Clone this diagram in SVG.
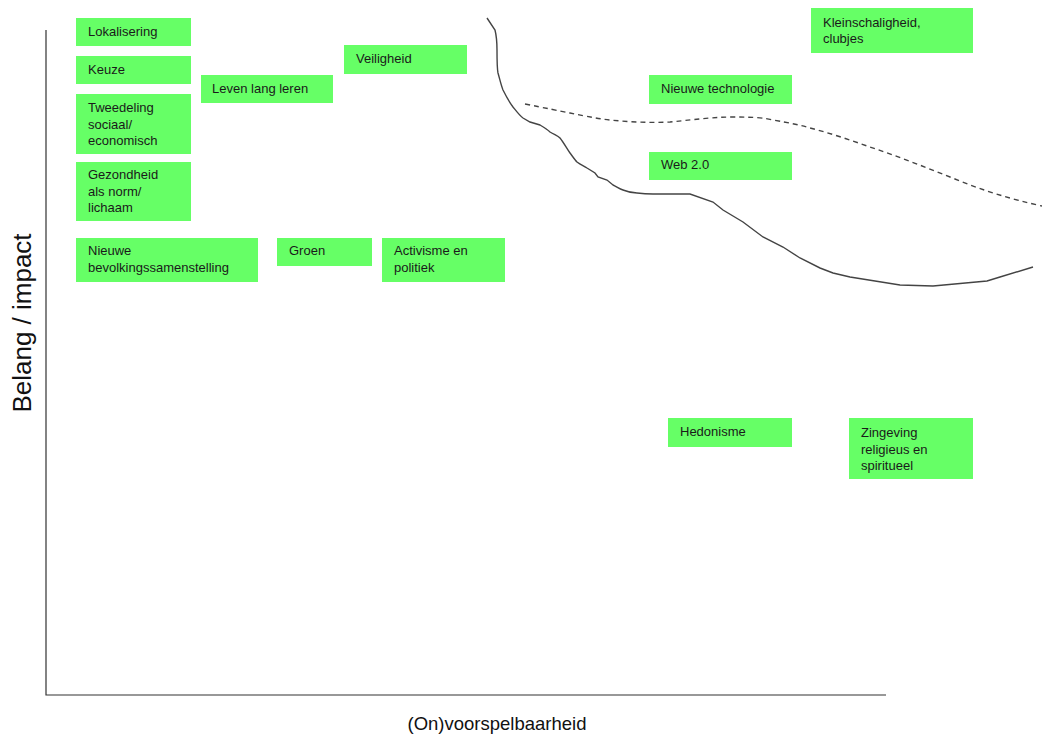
<svg xmlns="http://www.w3.org/2000/svg" width="1042" height="738" viewBox="0 0 1042 738">
<style>
.box{fill:#66ff66;stroke:none}
.t{font-family:"Liberation Sans",Arial,sans-serif;font-size:13px;fill:#1a1a1a}
.ax{stroke:#333;stroke-width:1.2;fill:none}
.lab{font-family:"Liberation Sans",Arial,sans-serif;fill:#111}
.curve{stroke:#444;stroke-width:1.4;fill:none}
.dash{stroke:#444;stroke-width:1.4;fill:none;stroke-dasharray:5,4}
</style>
<rect width="1042" height="738" fill="#fff"/>
<g id="axes">
<path class="ax" d="M46,30 V695 H886"/>
<text class="lab" x="497" y="730" font-size="18.5" text-anchor="middle">(On)voorspelbaarheid</text>
<text class="lab" transform="translate(31,323) rotate(-90)" font-size="26" text-anchor="middle">Belang / impact</text>
</g>
<g id="connectors">
<path class="curve" d="M487,18 L495,30 C497,38 497,45 497,50 C497,60 497,68 498,73 C500,80 501,85 503,90 C507,98 510,103 513,107 C517,112 520,116 523,118 L530,122 L540,125 C545,128 548,130 550,132 C555,135 558,136 560,138 C564,143 567,149 570,153 C573,157 575,160 577,162 C581,165 584,166 587,168 L595,173 L598,177 L607,180 L613,185 C617,187 620,189 623,190 C628,192 633,193 637,193 C645,194 650,194 653,194 L690,194 L713,202 L723,210 L743,222 L763,237 L783,247 L800,258 L820,268 L833,273 L850,277 L900,285 L933,286 L987,281 L1000,277 L1033,267"/>
<path class="dash" d="M525,104 C545,108 560,111 570,113 C590,117 600,119 610,120 C630,122 650,123 670,122 C700,119 715,117 733,117 C755,117 765,118 773,120 C790,123 800,125 810,128 C830,133 850,140 870,147 C900,157 930,169 960,181 C985,191 1010,199 1042,206"/>
</g>
<g id="n-lokalisering"><rect class="box" x="76" y="18" width="115" height="28"/><text class="t" x="88" y="36">Lokalisering</text></g>
<g id="n-keuze"><rect class="box" x="76" y="56" width="115" height="28"/><text class="t" x="88" y="74">Keuze</text></g>
<g id="n-tweedeling"><rect class="box" x="76" y="94" width="115" height="60"/><text class="t" x="88" y="112">Tweedeling</text><text class="t" x="88" y="128.5">sociaal/</text><text class="t" x="88" y="145">economisch</text></g>
<g id="n-gezondheid"><rect class="box" x="76" y="162" width="115" height="59"/><text class="t" x="88" y="179">Gezondheid</text><text class="t" x="88" y="195.5">als norm/</text><text class="t" x="88" y="212">lichaam</text></g>
<g id="n-leven"><rect class="box" x="201" y="75" width="132" height="28"/><text class="t" x="212" y="93">Leven lang leren</text></g>
<g id="n-veiligheid"><rect class="box" x="344" y="45" width="123" height="29"/><text class="t" x="356" y="63">Veiligheid</text></g>
<g id="n-bevolking"><rect class="box" x="76" y="238" width="182" height="44"/><text class="t" x="88" y="255">Nieuwe</text><text class="t" x="88" y="272">bevolkingssamenstelling</text></g>
<g id="n-groen"><rect class="box" x="277" y="238" width="95" height="28"/><text class="t" x="289" y="255">Groen</text></g>
<g id="n-activisme"><rect class="box" x="382" y="238" width="123" height="44"/><text class="t" x="394" y="255">Activisme en</text><text class="t" x="394" y="272">politiek</text></g>
<g id="n-klein"><rect class="box" x="811" y="8" width="162" height="45"/><text class="t" x="823" y="27">Kleinschaligheid,</text><text class="t" x="823" y="43">clubjes</text></g>
<g id="n-technologie"><rect class="box" x="649" y="75" width="143" height="29"/><text class="t" x="661" y="93">Nieuwe technologie</text></g>
<g id="n-web"><rect class="box" x="649" y="152" width="143" height="28"/><text class="t" x="661" y="169">Web 2.0</text></g>
<g id="n-hedonisme"><rect class="box" x="668" y="418" width="124" height="29"/><text class="t" x="680" y="436">Hedonisme</text></g>
<g id="n-zingeving"><rect class="box" x="849" y="418" width="124" height="61"/><text class="t" x="861" y="437">Zingeving</text><text class="t" x="861" y="453.5">religieus en</text><text class="t" x="861" y="470">spiritueel</text></g>
</svg>
